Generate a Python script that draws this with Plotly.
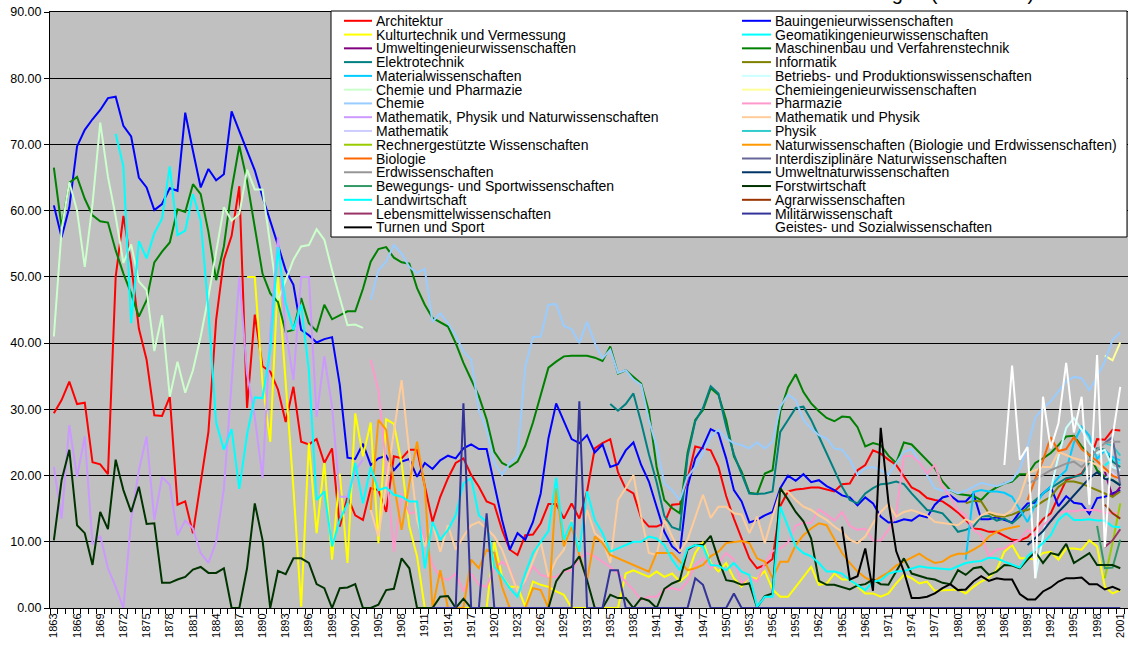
import plotly.graph_objects as go

# ------------------------------------------------------------------
# Axis data
# ------------------------------------------------------------------
tick_years = list(range(1863, 2002, 3))
tick_labels = [str(y) for y in tick_years]
y_tick_values = list(range(0, 91, 10))
y_tick_labels = [f"{v:.2f}" for v in y_tick_values]

# ------------------------------------------------------------------
# Series data (first year, then one value per consecutive year)
# ------------------------------------------------------------------
architektur_start = 1863
architektur = [
    29.4, 31.4, 34.2, 30.8, 31.0, 22.0, 21.7,
    20.2, 50.0, 59.2, 52.0, 42.2, 37.5, 29.1, 29.0, 31.9, 15.6,
    16.1, 11.3, 19.0, 26.6, 43.5, 52.6, 56.2, 63.7, 30.2, 44.3,
    36.5, 35.7, 33.0, 28.1, 33.4, 25.1, 24.7, 25.5, 21.9, 24.1,
    12.3, 16.8, 14.0, 13.3, 18.1, 17.8, 14.5, 22.9, 22.6, 23.9,
    23.9, 18.5, 13.0, 16.8, 19.6, 21.9, 22.6, 20.1, 18.3, 16.1,
    15.6, 11.8, 8.8, 8.0, 11.0, 11.1, 12.8, 15.7, 15.7, 13.5,
    15.8, 13.5, 17.6, 24.1, 24.9, 25.5, 20.5, 18.0, 17.3, 13.6,
    12.3, 12.3, 12.8, 15.6, 15.7, 19.5, 24.4, 24.1, 23.8, 21.3,
    16.9, 13.5, 10.6, 7.5, 6.0, 6.5, 7.4, 15.4, 17.6, 17.9,
    18.0, 18.2, 18.2, 17.9, 17.6, 18.7, 18.8, 20.8, 21.6, 23.8,
    23.3, 22.4, 21.6, 19.9, 18.2, 17.6, 16.6, 16.3, 16.1, 15.3,
    14.4, 13.3, 12.0, 11.9, 11.5, 11.5, 10.9, 10.3, 10.2, 10.7,
    11.9, 13.4, 14.3, 16.8, 19.3, 19.8, 20.3, 22.1, 25.5, 25.4,
    26.9, 26.8,
]

bau_start = 1863
bau = [
    60.8, 56.0, 60.5, 69.7, 72.2, 73.8, 75.2,
    77.0, 77.2, 72.8, 71.2, 65.0, 63.5, 60.1, 61.0, 63.4, 63.0,
    74.8, 69.0, 63.5, 66.3, 64.6, 65.5, 75.0, 72.0, 69.0, 66.1,
    62.1, 58.6, 54.8, 51.0, 48.8, 42.0, 41.2, 40.1, 40.6, 40.9,
    33.7, 22.7, 22.5, 24.8, 21.6, 22.6, 23.0, 20.8, 22.1, 22.5,
    19.8, 21.9, 21.0, 22.3, 23.0, 22.6, 24.1, 24.7, 24.0, 24.0,
    18.9, 13.3, 8.8, 11.3, 10.3, 13.0, 17.3, 25.6, 30.9, 28.1,
    25.5, 24.9, 26.1, 23.5, 24.7, 21.3, 21.7, 23.8, 25.0, 21.6,
    19.1, 15.3, 11.5, 9.3, 8.3, 18.3, 22.6, 24.4, 27.0, 26.4,
    22.6, 17.8, 16.1, 12.9, 13.3, 14.0, 14.5, 18.1, 20.0, 19.2,
    20.2, 19.0, 19.3, 18.4, 17.8, 17.0, 16.7, 15.5, 16.7, 15.8,
    13.8, 12.9, 13.0, 13.4, 13.2, 14.0, 13.7, 15.6, 16.7, 17.0,
    16.1, 16.1, 17.3, 13.4, 13.4, 13.7, 13.3, 12.9, 14.5, 15.8,
    15.9, 17.3, 18.3, 15.4, 16.9, 15.9, 15.7, 14.2, 16.6, 16.8,
    17.3, 17.8,
]

kulturtechnik_start = 1888
kulturtechnik = [
    50.0, 50.0,
    34.0, 25.1, 50.0, 34.4, 18.1, 0.2, 24.9, 11.3, 21.9, 7.3,
    20.3, 6.8, 29.4, 22.9, 28.0, 9.8, 28.5, 27.8, 21.9, 12.3,
    7.8, 0.0, 0.0, 0.0, 0.0, 0.0, 0.0, 0.0, 0.0, 0.0,
    10.0, 4.7, 3.2, 3.2, 0.2, 4.0, 3.5, 3.2, 2.5, 2.0,
    0.0, 0.0, 0.0, 0.0, 0.0, 0.0, 0.0, 5.2, 5.7, 5.2,
    4.7, 5.5, 4.7, 5.2, 4.0, 5.0, 8.3, 10.0, 6.8, 5.5,
    6.8, 4.5, 3.2, 4.7, 4.4, 5.6, 2.8, 1.7, 1.7, 3.2,
    4.7, 6.2, 3.5, 3.7, 5.2, 4.3, 4.3, 3.2, 2.2, 2.2,
    1.7, 2.2, 3.7, 5.0, 4.5, 3.7, 4.0, 2.6, 2.7, 2.8,
    2.8, 2.2, 3.2, 4.0, 4.6, 5.7, 8.5, 9.5, 7.5, 7.5,
    7.3, 8.3, 8.5, 7.3, 9.0, 9.0, 8.8, 10.2, 9.3, 3.2,
    2.2, 2.7,
]

geomatik_start = 1999
geomatik = [21.5, 22.5, 21.8]

umweltingenieur_start = 1999
umweltingenieur = [20.6, 16.8, 18.3]

maschinenbau_start = 1863
maschinenbau = [
    66.5, 57.5, 64.2, 65.1, 61.8, 59.3, 58.4,
    58.2, 54.0, 50.5, 47.5, 44.0, 46.5, 52.2, 53.8, 55.2, 60.2,
    59.8, 64.0, 62.5, 56.8, 49.5, 54.6, 63.2, 69.8, 64.5, 57.5,
    50.5, 47.5, 46.2, 41.7, 42.0, 46.8, 43.0, 41.8, 45.8, 43.6,
    44.2, 44.8, 44.8, 48.2, 52.3, 54.2, 54.5, 52.9, 52.2, 52.0,
    48.3, 45.8, 43.8, 43.2, 42.5, 40.0, 37.0, 34.5, 32.0, 28.5,
    23.6, 21.9, 21.3, 22.1, 24.5, 28.0, 32.2, 36.3, 37.2, 38.0,
    38.1, 38.1, 38.1, 37.8, 37.3, 39.5, 35.4, 35.9, 34.9, 33.9,
    29.7, 21.3, 16.3, 15.1, 14.3, 23.4, 28.4, 29.9, 33.2, 32.2,
    28.4, 22.9, 20.6, 17.4, 17.2, 20.3, 20.8, 29.7, 33.3, 35.3,
    32.6, 30.9, 29.7, 28.7, 28.2, 28.9, 28.8, 27.3, 24.4, 24.9,
    24.6, 23.0, 21.9, 25.0, 24.7, 23.5, 22.4, 21.1, 19.1, 17.8,
    17.2, 17.1, 16.9, 16.3, 17.5, 18.2, 18.8, 19.1, 20.2, 20.2,
    21.9, 22.6, 23.4, 24.6, 25.9, 26.0, 24.4, 23.1, 20.8, 19.8,
    19.3, 18.6,
]

elektrotechnik_start = 1935
elektrotechnik = [
    30.8, 29.8, 30.8, 32.4, 28.0,
    23.2, 19.0, 13.9, 12.2, 11.8, 22.9, 28.2, 30.2, 33.5, 32.4,
    27.4, 23.2, 20.3, 17.3, 17.2, 17.3, 17.6, 26.6, 28.4, 30.2,
    30.4, 28.4, 25.9, 23.4, 20.8, 18.3, 16.3, 15.8, 17.3, 18.1,
    18.7, 18.8, 19.1, 18.7, 17.3, 16.1, 14.8, 14.6, 14.3, 13.0,
    11.5, 11.8, 12.3, 13.8, 13.9, 13.2, 13.5, 12.8, 13.8, 15.3,
    16.3, 17.3, 18.1, 18.8, 19.6, 19.8, 20.1, 22.1, 24.1, 23.9,
    22.1, 21.3,
]

informatik_start = 1981
informatik = [15.8, 16.2, 16.1, 14.3, 13.8, 13.8, 14.1, 14.6, 14.8,
              15.3, 16.1, 16.8, 18.3, 19.1, 19.1, 18.8, 18.3, 17.8, 17.3,
              16.8, 17.6]

materialwiss_start = 1981
materialwiss = [7.3, 17.5, 17.8, 17.6, 17.6, 17.4, 16.8, 15.0, 13.0,
                15.6, 17.3, 18.3, 19.7, 20.8, 25.0, 27.4, 26.0, 22.5, 23.8,
                22.8, 22.3]

betriebswiss_start = 1990
betriebswiss = [4.5, 10.8, 17.8, 22.9, 27.2, 28.7, 26.9, 24.9, 23.4, 23.9,
                21.3, 20.8]

chemie_pharmazie_start = 1863
chemie_pharmazie = [
    41.0, 57.1, 64.3, 60.0, 51.5, 61.0, 73.3,
    65.1, 59.1, 52.1, 54.9, 49.3, 48.0, 38.8, 44.2, 31.9, 37.2,
    32.5, 35.9, 41.0, 47.0, 53.6, 60.5, 58.5, 59.5, 66.2, 63.2,
    63.2, 55.0, 46.5, 49.5, 52.6, 54.6, 54.8, 57.2, 55.6, 51.0,
    47.0, 42.7, 42.8, 42.3,
]

chemieing_start = 1999
chemieing = [38.1, 37.4, 40.1]

chemie_start = 1904
chemie = [
    46.5, 51.0, 52.3, 54.8, 53.5, 51.5,
    50.6, 51.2, 43.2, 44.5, 43.0, 41.2, 38.7, 37.5, 29.9, 26.9,
    21.9, 20.1, 21.9, 22.9, 36.4, 40.9, 41.0, 45.8, 45.9, 42.6,
    42.1, 40.0, 43.2, 40.0, 37.7, 39.0, 35.5, 35.9, 34.5, 33.7,
    28.4, 24.4, 18.8, 17.8, 16.3, 19.8, 21.3, 23.4, 25.9, 26.9,
    25.6, 24.9, 24.6, 24.1, 25.0, 24.1, 25.1, 30.4, 32.2, 31.4,
    28.4, 27.1, 26.1, 25.6, 24.1, 23.9, 22.4, 20.1, 21.1, 21.3,
    20.8, 20.1, 21.9, 23.6, 24.0, 22.1, 20.1, 18.1, 17.7, 17.8,
    17.3, 17.7, 18.3, 18.9, 18.6, 18.4, 18.8, 19.3, 21.0, 24.4,
    28.7, 30.2, 31.2, 32.7, 34.2, 34.9, 34.7, 32.9, 34.9, 37.2,
    40.5, 41.6,
]

pharmazie_start = 1904
pharmazie = [
    37.5, 32.9, 21.3, 8.5, 17.3, 14.3,
    14.5, 10.3, 6.5, 4.7, 4.2, 5.2, 2.5, 5.2, 3.5, 3.2,
    6.0, 7.0, 6.0, 2.5, 4.0, 6.3, 5.0, 4.7, 4.7, 5.5,
    5.7, 7.5, 8.3, 7.8, 7.0, 6.2, 5.2, 4.0, 2.7, 1.2,
    1.7, 1.7, 2.8, 3.0, 2.7, 4.0, 6.5, 7.5, 6.0, 6.8,
    8.3, 7.3, 3.7, 4.7, 4.0, 6.8, 8.6, 9.0, 9.9, 12.4,
    12.9, 12.8, 14.9, 14.1, 13.2, 14.5, 12.4, 11.8, 12.0, 10.2,
    10.2, 11.8, 14.2, 22.9, 23.0, 22.0, 20.3, 21.6, 18.3, 16.8,
    14.8, 14.0, 11.8, 11.0, 7.8, 8.8, 9.0, 9.8, 10.3, 11.8,
    11.0, 12.5, 13.4, 14.4, 14.6, 14.6, 14.8, 14.8, 14.8, 14.4,
    14.3, 14.4,
]

math_phys_nat_start = 1863
math_phys_nat = [
    21.3, 13.5, 27.6, 19.8, 25.9, 9.6, 10.9,
    6.0, 3.2, 0.0, 13.3, 20.8, 25.9, 13.3, 19.8, 18.6, 11.0,
    13.2, 12.0, 8.3, 6.8, 10.0, 18.0, 34.5, 50.0, 35.4, 28.9,
    19.6, 41.5, 56.0, 42.0, 34.4, 50.0, 50.0, 28.9, 38.0, 30.4,
    16.8, 16.8, 20.8, 22.4,
]

math_physik_start = 1904
math_physik = [
    14.8, 10.8, 18.8, 26.4, 34.4, 23.4,
    13.3, 9.3, 12.8, 8.5, 12.5, 8.8, 10.8, 12.5, 13.0, 12.0,
    10.8, 8.8, 5.7, 2.5, 4.2, 7.0, 10.0, 4.7, 7.3, 8.8,
    13.3, 8.8, 14.8, 11.3, 10.3, 6.8, 16.3, 18.1, 20.1, 13.8,
    8.3, 8.0, 13.3, 10.8, 8.5, 10.3, 13.8, 17.1, 13.6, 15.3,
    15.3, 14.3, 14.1, 11.3, 13.8, 9.8, 13.8, 17.6, 17.6, 16.3,
    15.3, 14.8, 14.0, 13.3, 12.3, 11.5, 10.3, 9.8, 10.8, 12.8,
    14.5, 15.7, 13.8, 14.5, 14.8, 14.4, 14.0, 13.0, 12.8, 12.6,
    12.5, 13.4, 12.9, 14.0, 14.5, 14.2, 14.0, 14.8, 16.8, 20.3,
    20.8, 21.3, 21.3, 23.6, 23.1, 22.6, 22.3, 22.1, 21.6, 20.8,
    20.3, 19.6,
]

mathematik_start = 1999
mathematik = [19.5, 20.5, 19.0]

physik_start = 1999
physik = [24.9, 24.5, 23.0]

rechnergestuetzt_start = 1999
rechnergestuetzt = [4.5, 9.8, 15.8]

naturwiss_start = 1904
naturwiss = [
    14.8, 28.4, 26.9, 18.8, 11.8, 18.8,
    25.1, 18.3, 0.0, 5.7, 0.0, 0.0, 0.0, 7.3, 6.0, 8.8,
    8.3, 3.2, 0.0, 0.0, 0.0, 3.0, 2.7, 0.0, 18.1, 9.3,
    12.3, 8.0, 4.2, 10.8, 9.8, 8.0, 7.5, 7.0, 6.5, 6.0,
    5.5, 8.3, 8.3, 8.3, 7.0, 5.7, 6.0, 6.5, 7.8, 8.5,
    9.8, 10.0, 10.1, 9.8, 7.5, 7.0, 4.5, 7.0, 7.0, 9.5,
    11.0, 12.0, 12.8, 12.5, 10.5, 8.3, 6.8, 5.5, 4.6, 4.0,
    4.7, 5.4, 6.4, 7.0, 7.5, 8.2, 7.4, 6.8, 7.0, 7.8,
    8.2, 8.2, 8.8, 9.5, 10.8, 11.5, 11.9, 12.2, 12.4,
]

biologie_start = 1989
biologie = [16.3, 19.5, 22.3, 25.8, 23.7, 24.0, 25.8, 24.0, 23.1, 22.2,
            21.1, 20.0, 19.5]

interdisz_start = 1999
interdisz = [24.9, 25.8, 18.5]

erdwiss_start = 1989
erdwiss = [18.8, 19.3, 20.1, 20.8, 21.3, 21.8, 22.1, 21.3, 22.4, 23.9,
           24.9, 25.1, 25.1]

umweltnatur_start = 1989
umweltnatur = [9.5, 10.5, 11.6, 13.1, 14.5, 15.7, 17.0, 18.3, 19.6, 20.5,
               19.5, 19.3, 18.5]

bewegung_start = 1998
bewegung = [12.4, 6.0, 6.1, 10.3]

forst_start = 1863
forst = [
    10.2, 19.3, 23.9, 12.5, 11.3, 6.5, 14.5,
    11.9, 22.4, 17.8, 14.5, 18.3, 12.7, 12.8, 3.8, 3.8, 4.3,
    4.7, 5.8, 6.2, 5.3, 5.3, 6.0, 0.0, 0.0, 6.0, 15.8,
    10.3, 0.0, 5.6, 5.1, 7.5, 7.5, 6.8, 3.6, 3.0, 0.0,
    3.0, 3.1, 3.6, 0.0, 0.0, 0.5, 2.7, 2.9, 7.5, 6.0,
    0.0, 0.0, 0.0, 1.7, 1.8, 0.0, 1.4, 0.0, 0.0, 0.0,
    0.0, 0.0, 0.0, 0.0, 0.0, 0.0, 0.0, 0.0, 4.0, 5.7,
    6.2, 7.8, 4.2, 0.0, 0.0, 2.0, 1.5, 1.5, 0.0, 1.5,
    1.1, 0.0, 2.9, 3.7, 4.2, 8.8, 9.5, 9.5, 10.9, 7.3,
    4.2, 4.0, 3.5, 3.7, 0.1, 1.8, 2.2, 18.1, 16.4, 14.5,
    13.1, 10.5, 4.1, 3.5, 3.5, 3.2, 2.8, 3.4, 3.6, 4.3,
    3.6, 3.5, 5.5, 7.5, 5.2, 4.8, 4.5, 4.3, 3.8, 3.6,
    5.7, 5.0, 6.0, 6.2, 5.0, 5.5, 6.5, 6.4, 6.0, 7.3,
    8.5, 6.8, 8.3, 8.0, 9.7, 6.8, 7.5, 8.3, 6.5, 6.5,
    6.5, 6.0,
]

landwirtschaft_start = 1871
landwirtschaft = [
    71.6, 66.7, 43.0, 55.4, 52.8, 56.6, 58.8, 66.7, 56.3,
    57.0, 62.5, 58.5, 45.0, 28.0, 23.9, 27.0, 18.0, 26.2, 31.8,
    31.7, 39.0, 54.5, 46.0, 42.0, 45.8, 35.9, 16.3, 17.6, 9.3,
    13.3, 15.8, 21.9, 15.8, 21.3, 17.8, 18.2, 17.1, 16.8, 16.1,
    16.1, 6.0, 13.0, 10.3, 11.8, 14.0, 18.8, 19.6, 14.0, 13.0,
    6.2, 4.7, 3.0, 1.7, 5.2, 8.3, 10.0, 11.6, 19.7, 10.3,
    13.0, 8.5, 17.6, 13.3, 11.3, 8.5, 9.0, 9.5, 10.0, 10.0,
    10.8, 10.5, 9.5, 7.3, 5.7, 9.0, 9.5, 9.3, 6.5, 6.4,
    5.7, 6.8, 5.5, 5.0, 0.2, 1.7, 1.7, 15.3, 12.3, 9.3,
    8.3, 7.8, 6.8, 5.5, 5.5, 5.2, 4.2, 3.5, 2.7, 4.0,
    4.2, 5.2, 5.5, 5.6, 6.0, 6.3, 6.1, 6.0, 6.0, 5.8,
    6.3, 6.8, 7.0, 7.1, 7.6, 7.5, 7.0, 6.5, 6.1, 7.8,
    8.8, 9.8, 11.0, 13.3, 14.3, 13.3, 13.3, 13.4, 13.2, 13.2,
    12.3, 12.2,
]

agrar_start = 1999
agrar = [15.6, 14.3, 13.5]

lebensmittel_start = 1999
lebensmittel = [9.2, 10.2, 11.9]

militaer_start = 1912
militaer = [
    0.0, 0.0, 0.0, 0.0, 30.9, 0.0, 0.0, 14.3,
    0.0, 0.0, 0.0, 0.0, 0.0, 0.0, 0.0, 0.0, 0.0, 0.0,
    0.0, 31.2, 0.0, 0.0, 0.0, 5.7, 5.7, 0.0, 0.0, 0.0,
    0.0, 0.0, 0.0, 0.0, 0.0, 0.0, 4.5, 3.5, 0.0, 0.0,
    0.0, 2.2, 0.0, 0.0, 0.0, 0.0, 0.0, 0.0, 0.0, 0.0,
    0.0, 0.0, 0.0, 0.0, 0.0, 0.0, 0.0, 0.0, 0.0, 0.0,
    0.0, 0.0, 0.0, 0.0, 0.0, 0.0, 0.0, 0.0, 0.0, 0.0,
    0.0, 0.0, 0.0, 0.0, 0.0, 0.0, 0.0, 0.0, 0.0, 0.0,
    0.0, 0.0, 0.0, 0.0, 0.0, 0.0, 0.0, 0.0, 0.0, 0.0,
    0.0, 0.0,
]

turnen_start = 1965
turnen = [
    12.3, 4.3, 4.8, 9.0, 2.6,
    27.2, 16.0, 8.6, 5.5, 1.5, 1.5, 1.7, 2.2, 3.0, 3.6,
    2.7, 2.8, 4.0, 4.8, 4.1, 4.5, 4.3, 4.3, 2.1, 1.3,
    1.3, 2.5, 3.1, 4.0, 4.5, 4.5, 4.6, 3.6, 3.6, 2.8,
    3.2, 2.7,
]

geistes_start = 1986
geistes = [21.6, 36.6, 22.4, 24.3, 4.5, 31.9, 24.1, 27.9, 37.0, 26.5,
           31.9, 15.6, 38.2, 9.2, 25.8, 33.4]

# Legend order (row-major: left column entry, right column entry, ...)
series = [
    ("Architektur", "#FF0000", architektur_start, architektur),
    ("Bauingenieurwissenschaften", "#0000FF", bau_start, bau),
    ("Kulturtechnik und Vermessung", "#FFFF00", kulturtechnik_start, kulturtechnik),
    ("Geomatikingenieurwissenschaften", "#00FFFF", geomatik_start, geomatik),
    ("Umweltingenieurwissenschaften", "#800080", umweltingenieur_start, umweltingenieur),
    ("Maschinenbau und Verfahrenstechnik", "#008000", maschinenbau_start, maschinenbau),
    ("Elektrotechnik", "#008080", elektrotechnik_start, elektrotechnik),
    ("Informatik", "#808000", informatik_start, informatik),
    ("Materialwissenschaften", "#00CCFF", materialwiss_start, materialwiss),
    ("Betriebs- und Produktionswissenschaften", "#CCFFFF", betriebswiss_start, betriebswiss),
    ("Chemie und Pharmazie", "#CCFFCC", chemie_pharmazie_start, chemie_pharmazie),
    ("Chemieingenieurwissenschaften", "#FFFF99", chemieing_start, chemieing),
    ("Chemie", "#99CCFF", chemie_start, chemie),
    ("Pharmazie", "#FF99CC", pharmazie_start, pharmazie),
    ("Mathematik, Physik und Naturwissenschaften", "#CC99FF", math_phys_nat_start, math_phys_nat),
    ("Mathematik und Physik", "#FFCC99", math_physik_start, math_physik),
    ("Mathematik", "#CCCCFF", mathematik_start, mathematik),
    ("Physik", "#33CCCC", physik_start, physik),
    ("Rechnergestützte Wissenschaften", "#99CC00", rechnergestuetzt_start, rechnergestuetzt),
    ("Naturwissenschaften (Biologie und Erdwissenschaften)", "#FF9900", naturwiss_start, naturwiss),
    ("Biologie", "#FF6600", biologie_start, biologie),
    ("Interdisziplinäre Naturwissenschaften", "#666699", interdisz_start, interdisz),
    ("Erdwissenschaften", "#969696", erdwiss_start, erdwiss),
    ("Umweltnaturwissenschaften", "#003366", umweltnatur_start, umweltnatur),
    ("Bewegungs- und Sportwissenschaften", "#339966", bewegung_start, bewegung),
    ("Forstwirtschaft", "#003300", forst_start, forst),
    ("Landwirtschaft", "#00FFFF", landwirtschaft_start, landwirtschaft),
    ("Agrarwissenschaften", "#993300", agrar_start, agrar),
    ("Lebensmittelwissenschaften", "#993366", lebensmittel_start, lebensmittel),
    ("Militärwissenschaft", "#333399", militaer_start, militaer),
    ("Turnen und Sport", "#000000", turnen_start, turnen),
    ("Geistes- und Sozialwissenschaften", "#FFFFFF", geistes_start, geistes),
]

# ------------------------------------------------------------------
# Layout geometry (pixels)
# ------------------------------------------------------------------
W, H = 1128, 647
M_L, M_R, M_T, M_B = 50, 0, 12, 39
PLOT_W = W - M_L - M_R
PLOT_H = H - M_T - M_B
FONT = "Arial, Liberation Sans, sans-serif"


def px_x(p):
    return (p - M_L) / PLOT_W


def px_y(p):
    return (H - M_B - p) / PLOT_H


fig = go.Figure()
for name, color, start, values in series:
    fig.add_trace(go.Scatter(
        x=list(range(start, start + len(values))),
        y=values,
        mode="lines",
        name=name,
        line=dict(color=color, width=2),
        showlegend=False,
        hoverinfo="skip",
    ))

# ------------------------------------------------------------------
# Legend box (two columns, Excel style)
# ------------------------------------------------------------------
shapes = [dict(type="rect", xref="paper", yref="paper",
               x0=px_x(331), x1=px_x(1127), y0=px_y(237), y1=px_y(11),
               line=dict(color="black", width=1), fillcolor="white",
               layer="above")]
annotations = []
col_line = [(344, 372), (742, 771)]
col_text = [374, 773]
for k, (name, color, _s, _v) in enumerate(series):
    col, row = k % 2, k // 2
    yc = 20.8 + row * 13.77
    shapes.append(dict(type="line", xref="paper", yref="paper",
                       x0=px_x(col_line[col][0]), x1=px_x(col_line[col][1]),
                       y0=px_y(yc), y1=px_y(yc),
                       line=dict(color=color, width=2), layer="above"))
    annotations.append(dict(xref="paper", yref="paper",
                            x=px_x(col_text[col]), y=px_y(yc),
                            xanchor="left", yanchor="middle",
                            text=name, showarrow=False,
                            font=dict(family=FONT, size=14, color="black")))

# partially visible chart title at the very top edge
annotations.append(dict(xref="paper", yref="paper", x=px_x(1036), y=1,
                        xanchor="right", yanchor="bottom", yshift=6,
                        text="Ausländeranteil nach Fachrichtungen (in Prozent)",
                        showarrow=False,
                        font=dict(family=FONT, size=20, color="black")))

fig.update_layout(
    width=W, height=H, autosize=False,
    margin=dict(l=M_L, r=M_R, t=M_T, b=M_B, pad=0, autoexpand=False),
    paper_bgcolor="white",
    plot_bgcolor="#C0C0C0",
    showlegend=False,
    hovermode=False,
    font=dict(family=FONT, color="black"),
    shapes=shapes,
    annotations=annotations,
    xaxis=dict(
        range=[1862.5, 2002.0], automargin=False,
        tickmode="array", tickvals=tick_years, ticktext=tick_labels,
        tickangle=-90, tickfont=dict(size=11, family=FONT, color="black"),
        ticks="", showgrid=False, zeroline=False,
        showline=True, linecolor="black", linewidth=1, mirror=True,
        minor=dict(tick0=1862.5, dtick=1, ticks="outside", ticklen=5,
                   tickcolor="black", tickwidth=1, showgrid=False),
    ),
    yaxis=dict(
        range=[0, 90], automargin=False,
        tickmode="array", tickvals=y_tick_values, ticktext=y_tick_labels,
        tickfont=dict(size=12.5, family=FONT, color="black"),
        ticks="outside", ticklen=5, tickcolor="black",
        showgrid=True, gridcolor="black", gridwidth=1,
        zeroline=False, showline=True, linecolor="black", linewidth=1,
    ),
)

# remove the default 8px page margin so the figure sits at the window origin
fig.write_html(
    "out.html",
    config={"displayModeBar": False, "staticPlot": True},
    post_script="document.body.style.margin='0';document.body.style.overflow='hidden';",
)
